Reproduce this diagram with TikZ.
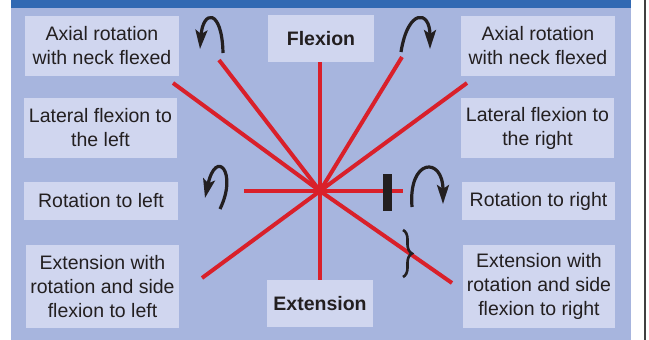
\documentclass[tikz,border=0pt]{standalone}
\usepackage{fontspec}
\setmainfont{Liberation Sans}
\usetikzlibrary{arrows.meta,decorations.pathreplacing}
\definecolor{panelc}{HTML}{A7B5DE}
\definecolor{boxc}{HTML}{D0D6EF}
\definecolor{barc}{HTML}{3169B3}
\definecolor{redc}{HTML}{D9202A}
\definecolor{txtc}{HTML}{231F20}
\definecolor{edgec}{HTML}{404040}
\tikzset{
  lbl/.style={fill=boxc, text=txtc, align=center, inner sep=0pt,
    font=\fontsize{19.5}{24}\selectfont},
  bold lbl/.style={lbl, font=\fontsize{19.5}{24}\selectfont\bfseries},
  ray/.style={draw=redc, line width=4pt, line cap=butt},
  turn/.style={draw=txtc, line width=3.2pt, line cap=butt,
    -{Stealth[length=19pt,width=12pt,inset=4pt]}},
}
\begin{document}
\begin{tikzpicture}[x=1pt,y=-1pt]
\useasboundingbox (0,0) rectangle (649,340);
\fill[white] (0,0) rectangle (649,340);
\fill[panelc] (11,0) rectangle (631,340);
\fill[barc] (11,0) rectangle (631,8);
\draw[edgec, line width=1.5pt] (645,0) -- (645,340);

% boxes
\node[lbl, minimum width=154pt, minimum height=60pt] (axl) at (102,46) {Axial rotation\\with neck flexed};
\node[bold lbl, minimum width=106pt, minimum height=47pt] (flex) at (321,38.5) {Flexion};
\node[lbl, minimum width=154pt, minimum height=60pt] (axr) at (538,46) {Axial rotation\\with neck flexed};
\node[lbl, minimum width=153pt, minimum height=60pt] (latl) at (100.5,128) {Lateral flexion to\\the left};
\node[lbl, minimum width=153pt, minimum height=60pt] (latr) at (537.5,128) {Lateral flexion to\\the right};
\node[lbl, minimum width=154pt, minimum height=38pt] (rotl) at (101,201) {Rotation to left};
\node[lbl, minimum width=153pt, minimum height=38pt] (rotr) at (538.5,201) {Rotation to right};
\node[lbl, minimum width=153pt, minimum height=83pt] (extl) at (102.5,286.5) {Extension with\\rotation and side\\flexion to left};
\node[bold lbl, minimum width=106pt, minimum height=47pt] (ext) at (320,303.5) {Extension};
\node[lbl, minimum width=152pt, minimum height=83pt] (extr) at (539,286.5) {Extension with\\rotation and side\\flexion to right};

% rays
\coordinate (c) at (320,191);
\coordinate (ulS) at (173,83);
\coordinate (ulT) at (219,60);
\coordinate (urT) at (402,57);
\coordinate (urS) at (467,83);
\coordinate (hl) at (244,191);
\coordinate (hr) at (403,191);
\coordinate (ll) at (202,278);
\coordinate (lr) at (452,283);
\draw[ray] (flex.south -| c) -- (ext.north -| c);
\draw[ray] (hl) -- (hr);
\draw[ray] (ulS) -- (c) -- (lr);
\draw[ray] (ulT) -- (c);
\draw[ray] (urT) -- (c);
\draw[ray] (urS) -- (c) -- (ll);

% black bar
\node[fill=txtc, minimum width=9pt, minimum height=37pt, inner sep=0pt] (stop) at (387.5,192.5) {};

% curved arrows
\coordinate (a1s) at (223,53);
\coordinate (a1e) at (200,49);
\draw[turn] (a1s) .. controls (222,8) and (203,10) .. (a1e);
\coordinate (a2s) at (401,52);
\coordinate (a2e) at (430,49);
\draw[turn] (a2s) .. controls (408,8) and (430,10) .. (a2e);
\coordinate (a3s) at (220,209);
\coordinate (a3e) at (205,198);
\draw[turn] (a3s) .. controls (238,172) and (216,148) .. (a3e);
\coordinate (a4s) at (412,207);
\coordinate (a4e) at (443,204);
\draw[turn] (a4s) .. controls (408,158) and (443,156) .. (a4e);

% brace
\coordinate (b1) at (403,230);
\coordinate (b2) at (403,277);
\draw[txtc, line width=2.6pt, decorate, decoration={brace, amplitude=9pt}] (b1) -- (b2);
\end{tikzpicture}
\end{document}
